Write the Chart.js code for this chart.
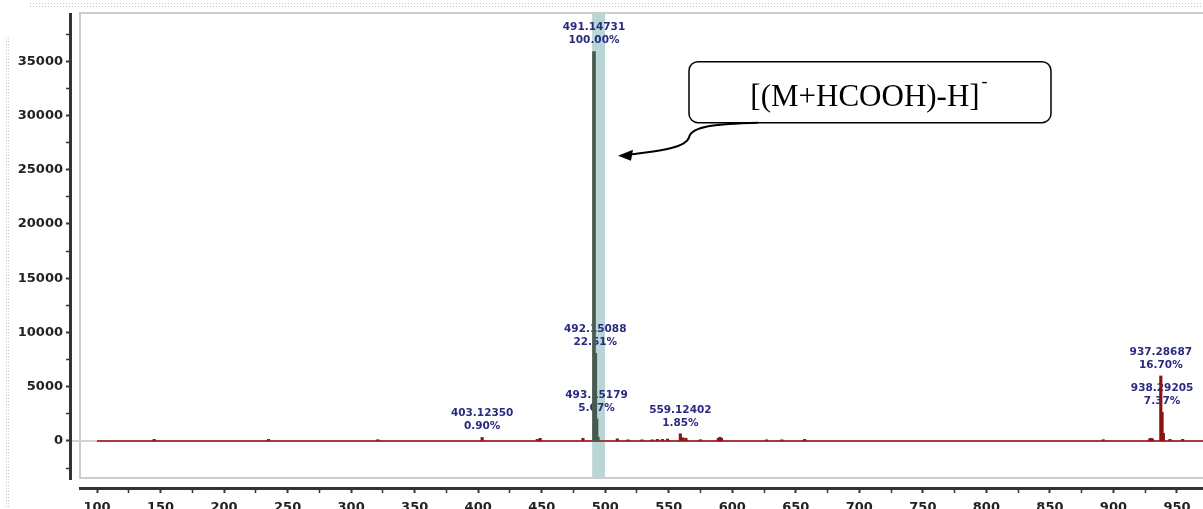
<!DOCTYPE html>
<html>
<head>
<meta charset="utf-8">
<script src="https://cdn.jsdelivr.net/npm/chart.js@4.4.1/dist/chart.umd.min.js"></script>
<style>
  html, body { margin: 0; padding: 0; background: #fff; }
</style>
</head>
<body>
<canvas id="ms" width="1203" height="509"></canvas>
<script>
// peaks inside the highlighted window (drawn grey-green)
const mzWindow = [491.14731, 492.15088, 493.15179, 494.15];
const intWindow = [35900, 8081, 2036, 350];

// other peaks (drawn dark red)
const mzOther = [145.0, 235.0, 321.0, 403.12350, 446.5, 448.8, 482.5, 509.5, 518.0, 529.0, 537.0, 541.0, 545.0, 549.0,
  559.12402, 561.0, 563.5, 575.0, 589.0, 590.3, 591.5, 627.0, 639.0, 657.0, 892.0, 928.6, 929.6, 930.6,
  937.28687, 938.29205, 939.3, 944.5, 954.5];
const intOther = [150, 150, 120, 323, 150, 250, 250, 200, 110, 110, 110, 150, 150, 180,
  664, 300, 250, 120, 250, 350, 250, 110, 110, 150, 120, 200, 250, 200,
  5995, 2646, 700, 150, 150];

// annotated peaks
const labelMz = [491.14731, 492.15088, 493.15179, 403.12350, 559.12402, 937.28687, 938.29205];
const labelInt = [35900, 8081, 2036, 323, 664, 5995, 2646];
const labelPct = ['100.00%', '22.51%', '5.67%', '0.90%', '1.85%', '16.70%', '7.37%'];

const scanRange = [100, 970.5];
const windowRange = [489.7, 499.8];
const xMajorTicks = [100, 150, 200, 250, 300, 350, 400, 450, 500, 550, 600, 650, 700, 750, 800, 850, 900, 950];
const yMajorTicks = [0, 5000, 10000, 15000, 20000, 25000, 30000, 35000];
const calloutText = '[(M+HCOOH)-H]';

const pts = (xs, ys) => xs.map((v, i) => ({x: v, y: ys[i]}));

const decor = {
  id: 'decor',
  beforeDatasetsDraw(chart) {
    const {ctx, chartArea: a, scales: {x, y}} = chart;
    const fl = a.left + 8, fb = a.bottom - 9;
    ctx.save();
    // page edge dots
    ctx.strokeStyle = '#c4c4c4'; ctx.lineWidth = 1; ctx.setLineDash([1, 2]);
    ctx.beginPath(); ctx.moveTo(30, 3.5); ctx.lineTo(1203, 3.5); ctx.moveTo(30, 6.5); ctx.lineTo(1203, 6.5); ctx.stroke();
    ctx.beginPath(); ctx.moveTo(6.5, 38); ctx.lineTo(6.5, 509); ctx.moveTo(8.5, 38); ctx.lineTo(8.5, 509); ctx.stroke();
    ctx.setLineDash([]);
    // axis lines (kept apart at the corner, as in the source software)
    ctx.strokeStyle = '#333'; ctx.lineWidth = 3;
    ctx.beginPath();
    ctx.moveTo(a.left - 1.5, a.top); ctx.lineTo(a.left - 1.5, a.bottom - 7);
    ctx.moveTo(a.left + 7, a.bottom + 1.5); ctx.lineTo(a.right, a.bottom + 1.5);
    ctx.stroke();
    // highlighted window
    const b0 = x.getPixelForValue(windowRange[0]), b1 = x.getPixelForValue(windowRange[1]);
    ctx.fillStyle = '#b9d6d5';
    ctx.fillRect(b0, a.top, b1 - b0, fb - a.top);
    // plot frame
    ctx.strokeStyle = '#cccccc'; ctx.lineWidth = 2;
    ctx.beginPath();
    ctx.moveTo(a.right + 2, a.top); ctx.lineTo(fl, a.top); ctx.lineTo(fl, fb); ctx.lineTo(a.right + 2, fb);
    ctx.stroke();
    // peak labels
    ctx.fillStyle = '#2a2a82';
    ctx.font = 'bold 10.5px "DejaVu Sans"';
    ctx.textAlign = 'center'; ctx.textBaseline = 'middle';
    labelMz.forEach((m, i) => {
      const px = x.getPixelForValue(m), py = y.getPixelForValue(labelInt[i]);
      ctx.fillText(m.toFixed(5), px, py - 24);
      ctx.fillText(labelPct[i], px, py - 11);
    });
    ctx.restore();
  },
  afterDraw(chart) {
    const {ctx, scales: {x, y}} = chart;
    const tx = x.getPixelForValue(labelMz[0]) + 24, ty = y.getPixelForValue(26300);
    const bx = tx + 71, by = ty - 94, bw = 362, bh = 61;
    ctx.save();
    ctx.fillStyle = '#fff'; ctx.strokeStyle = '#000'; ctx.lineWidth = 1.5;
    ctx.beginPath(); ctx.roundRect(bx, by, bw, bh, 9); ctx.fill(); ctx.stroke();
    ctx.fillStyle = '#000';
    ctx.font = '31px "Liberation Serif"';
    ctx.textBaseline = 'alphabetic'; ctx.textAlign = 'left';
    const w = ctx.measureText(calloutText).width;
    const sx = bx + (bw - w) / 2 - 5;
    ctx.fillText(calloutText, sx, by + 44);
    ctx.font = '18px "Liberation Serif"';
    ctx.fillText('-', sx + w + 2, by + 25);
    // curved leader
    ctx.lineWidth = 2;
    ctx.beginPath();
    ctx.moveTo(bx + 69, by + bh);
    ctx.bezierCurveTo(bx + 30, by + bh + 1, bx + 2, by + bh + 3, bx, by + bh + 15);
    ctx.bezierCurveTo(bx - 4, by + bh + 27, bx - 40, by + bh + 29, tx + 12, ty - 1);
    ctx.stroke();
    ctx.beginPath();
    ctx.moveTo(tx, ty); ctx.lineTo(tx + 15, ty - 6); ctx.lineTo(tx + 13, ty + 5); ctx.closePath();
    ctx.fill();
    ctx.restore();
  }
};

const tickFont = {family: 'DejaVu Sans', size: 13, weight: 'bold'};

new Chart(document.getElementById('ms'), {
  type: 'bar',
  data: {
    datasets: [
      {type: 'line', data: pts([80.3, scanRange[0]], [0, 0]), borderColor: '#d2d2d2', borderWidth: 2, pointRadius: 0, order: 4},
      {type: 'line', data: pts(scanRange, [0, 0]), borderColor: '#a53c3c', borderWidth: 2, pointRadius: 0, order: 3},
      {data: pts(mzOther, intOther), backgroundColor: '#8a1414', barThickness: 2.5, grouped: false, order: 1},
      {data: pts(mzWindow, intWindow), backgroundColor: '#48594f', barThickness: 3, grouped: false, order: 0}
    ]
  },
  options: {
    responsive: false,
    animation: false,
    events: [],
    layout: {padding: {top: 13, right: 0, left: 0, bottom: 0}},
    plugins: {legend: {display: false}, tooltip: {enabled: false}},
    scales: {
      x: {
        type: 'linear', min: 80.3, max: scanRange[1], offset: false,
        grid: {drawOnChartArea: false, offset: false, tickLength: 6, tickColor: '#333',
          tickWidth: c => (c.tick && c.tick.value % 50 === 0 ? 2 : 1.5)},
        border: {display: false},
        ticks: {autoSkip: false, maxRotation: 0, padding: 7, color: '#222', font: tickFont,
          callback: v => (v % 50 === 0 ? v : '')},
        afterBuildTicks: s => {
          const t = [];
          xMajorTicks.forEach(v => { t.push({value: v}); if (v + 25 <= s.max) t.push({value: v + 25}); });
          s.ticks = t;
        },
        afterFit: s => { s.height = 22; }
      },
      y: {
        type: 'linear', min: -4240, max: 39447,
        grid: {drawOnChartArea: false, tickLength: 6, tickColor: '#333',
          tickWidth: c => (c.tick && c.tick.value % 5000 === 0 ? 2 : 1.5)},
        border: {display: false},
        ticks: {padding: 3, color: '#222', font: tickFont,
          callback: v => (v % 5000 === 0 ? v : '')},
        afterBuildTicks: s => {
          const t = [{value: -2500}];
          yMajorTicks.forEach(v => { t.push({value: v}); t.push({value: v + 2500}); });
          s.ticks = t;
        },
        afterFit: s => { s.width = 72; }
      }
    }
  },
  plugins: [decor]
});
</script>
</body>
</html>
